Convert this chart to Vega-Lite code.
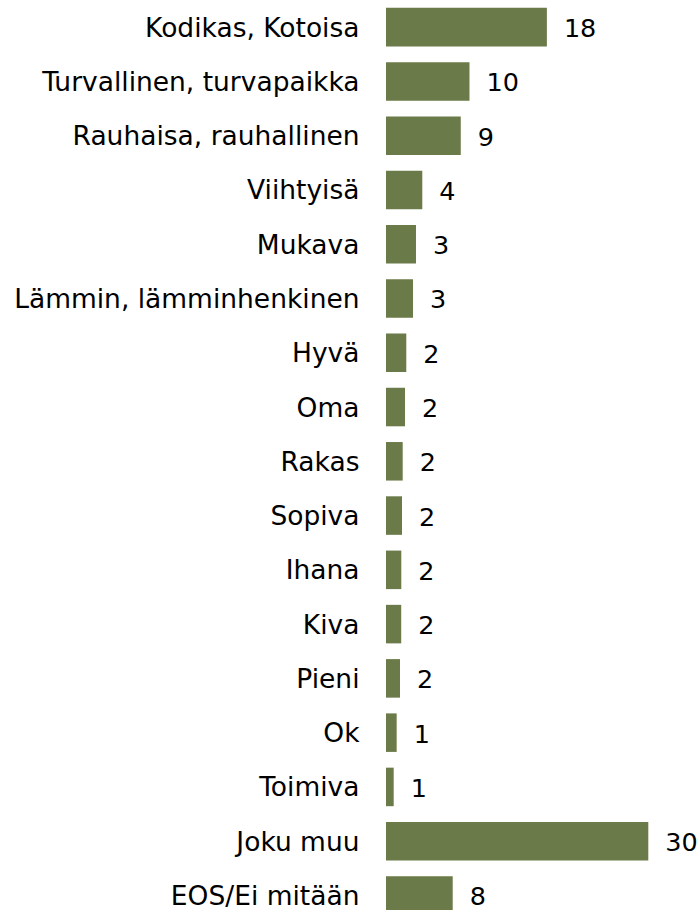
{
  "$schema": "https://vega.github.io/schema/vega-lite/v6.json",
  "width": 262.3,
  "height": 922.6,
  "autosize": {"type": "none"},
  "padding": {"left": 386, "top": 0, "right": 51.7, "bottom": 0},
  "background": "white",
  "config": {"view": {"stroke": null}, "font": "DejaVu Sans"},
  "data": {
    "values": [
      {"category": "Kodikas, Kotoisa", "value": 18.4},
      {"category": "Turvallinen, turvapaikka", "value": 9.55},
      {"category": "Rauhaisa, rauhallinen", "value": 8.55},
      {"category": "Viihtyisä", "value": 4.15},
      {"category": "Mukava", "value": 3.43},
      {"category": "Lämmin, lämminhenkinen", "value": 3.09},
      {"category": "Hyvä", "value": 2.32},
      {"category": "Oma", "value": 2.17},
      {"category": "Rakas", "value": 1.91},
      {"category": "Sopiva", "value": 1.83},
      {"category": "Ihana", "value": 1.75},
      {"category": "Kiva", "value": 1.74},
      {"category": "Pieni", "value": 1.6},
      {"category": "Ok", "value": 1.22},
      {"category": "Toimiva", "value": 0.88},
      {"category": "Joku muu", "value": 30},
      {"category": "EOS/Ei mitään", "value": 7.63}
    ]
  },
  "encoding": {
    "y": {
      "field": "category",
      "type": "nominal",
      "sort": null,
      "scale": {"paddingInner": 0.29, "paddingOuter": 0.145},
      "axis": {
        "title": null,
        "domain": false,
        "ticks": false,
        "labelPadding": 27,
        "labelOffset": 1.5,
        "labelFontSize": 26.5,
        "labelColor": "#000000",
        "labelFont": "DejaVu Sans",
        "labelLimit": 400
      }
    }
  },
  "layer": [
    {
      "mark": {"type": "bar", "color": "#6B7A49"},
      "encoding": {
        "x": {"field": "value", "type": "quantitative", "scale": {"domain": [0, 30]}, "axis": null}
      }
    },
    {
      "mark": {"type": "text", "align": "left", "dx": 17, "dy": 2, "fontSize": 25.5, "color": "#000000", "font": "DejaVu Sans"},
      "encoding": {
        "x": {"field": "value", "type": "quantitative"},
        "text": {"field": "value", "type": "quantitative", "format": ".0f"}
      }
    }
  ]
}
